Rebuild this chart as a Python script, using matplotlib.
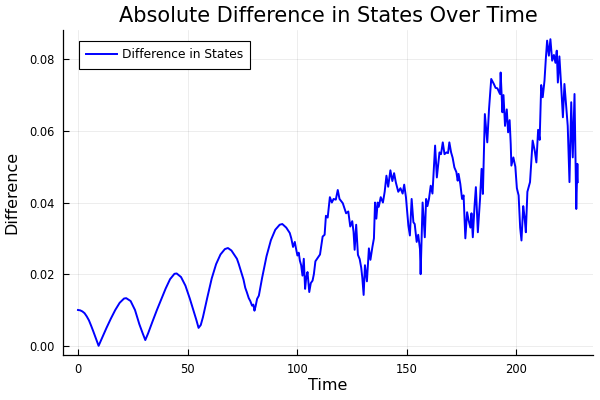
import numpy as np
import matplotlib.pyplot as plt
from matplotlib.ticker import FormatStrFormatter

# values
time = [
    0, 1, 2, 3, 4, 5, 6, 7, 8, 9.4, 11, 13, 15, 17, 19, 21, 22, 24, 26, 28, 29.5, 30.7,
    32, 34, 36, 38, 40, 42, 44, 45, 47, 49, 51, 53, 54, 55, 56, 57, 59, 61, 63, 65, 67,
    68.4, 70, 71.5, 72.5, 73.3, 74, 74.8, 75.5, 76.3, 77, 77.9, 78.6, 79.4, 80, 80.5, 81,
    81.7, 82.5, 84, 86, 88, 90, 92, 93.2, 95, 96.6, 97.3, 98.1, 98.9, 99.5, 100.1, 100.7,
    101.2, 101.8, 102.4, 103, 103.6, 104.1, 104.7, 105.5, 106.2, 107, 107.6, 108.3, 109.3,
    110.4, 111.6, 112.5, 113.1, 113.9, 114.9, 115.8, 116.6, 117.6, 118.5, 119.3, 120.8,
    122.3, 123.3, 124.2, 125.1, 125.7, 126.2, 126.9, 127.7, 128.5, 129.2, 129.7, 130.3,
    130.9, 131.8, 132.7, 133.4, 134.3, 135, 135.5, 136.1, 136.7, 137.2, 138.1, 139.1,
    139.9, 140.7, 141.5, 142.5, 143.4, 144.2, 145, 146.1, 147.1, 148.1, 148.8, 149.6,
    150.7, 151.4, 152.2, 153, 153.6, 154.5, 155.2, 156, 156.3, 157.2, 158.2, 158.8,
    159.4, 160.1, 160.9, 161.7, 162.9, 163.7, 164.9, 165.6, 166.4, 167.2, 168.1, 168.8,
    169.4, 170.2, 170.9, 171.7, 172.6, 173.2, 173.6, 174.4, 175.2, 175.9, 176.7, 177.5,
    178.2, 179, 179.5, 180.1, 180.9, 181.5, 182.4, 183.4, 184.1, 184.7, 185.6, 186.7,
    187.5, 188.5, 189.7, 190.5, 191.3, 192.5, 192.8, 193.6, 194.1, 194.8, 195.6, 196.2,
    196.9, 197.4, 197.7, 198.6, 199.5, 200.2, 201, 201.7, 202.3, 203.1, 203.7, 204.3,
    205, 206.2, 207.4, 208.4, 209.1, 209.9, 210.6, 211.3, 212, 212.8, 213.4, 214, 214.8,
    215.5, 216.3, 217.1, 217.8, 218.4, 218.9, 219.6, 220.4, 221.2, 221.9, 222.7, 223.4,
    224.2, 225, 225.7, 226.5, 227.3, 227.8, 228,
]
difference = [
    0.0100, 0.0099, 0.0096, 0.0091, 0.0082, 0.0071, 0.0056, 0.0040, 0.0023, 0.0000,
    0.0022, 0.0050, 0.0076, 0.0100, 0.0120, 0.0132, 0.0133, 0.0125, 0.0100, 0.0060,
    0.0035, 0.0016, 0.0035, 0.0068, 0.0100, 0.0130, 0.0160, 0.0186, 0.0201, 0.0202,
    0.0192, 0.0168, 0.0132, 0.0092, 0.0072, 0.0050, 0.0058, 0.0080, 0.0135, 0.0188,
    0.0228, 0.0255, 0.0270, 0.0273, 0.0266, 0.0252, 0.0243, 0.0229, 0.0215, 0.0200,
    0.0185, 0.0162, 0.0150, 0.0133, 0.0125, 0.0112, 0.0115, 0.0098, 0.0110, 0.0131,
    0.0140, 0.0190, 0.0250, 0.0295, 0.0324, 0.0338, 0.0340, 0.0330, 0.0315, 0.0300,
    0.0276, 0.0290, 0.0270, 0.0252, 0.0260, 0.0238, 0.0225, 0.0196, 0.0243, 0.0159,
    0.0190, 0.0206, 0.0150, 0.0175, 0.0182, 0.0200, 0.0236, 0.0245, 0.0255, 0.0305,
    0.0310, 0.0363, 0.0358, 0.0415, 0.0400, 0.0410, 0.0408, 0.0435, 0.0410, 0.0398,
    0.0370, 0.0375, 0.0333, 0.0348, 0.0318, 0.0268, 0.0338, 0.0254, 0.0242, 0.0218,
    0.0190, 0.0142, 0.0225, 0.0180, 0.0272, 0.0240, 0.0276, 0.0300, 0.0400, 0.0355,
    0.0400, 0.0388, 0.0415, 0.0400, 0.0430, 0.0475, 0.0444, 0.0490, 0.0460, 0.0482,
    0.0456, 0.0430, 0.0440, 0.0425, 0.0450, 0.0415, 0.0336, 0.0308, 0.0410, 0.0345,
    0.0340, 0.0290, 0.0310, 0.0270, 0.0200, 0.0400, 0.0303, 0.0410, 0.0390, 0.0410,
    0.0447, 0.0425, 0.0559, 0.0470, 0.0540, 0.0535, 0.0568, 0.0535, 0.0540, 0.0538,
    0.0568, 0.0540, 0.0525, 0.0498, 0.0485, 0.0461, 0.0480, 0.0452, 0.0410, 0.0420,
    0.0300, 0.0373, 0.0350, 0.0330, 0.0370, 0.0303, 0.0391, 0.0443, 0.0317, 0.0410,
    0.0494, 0.0424, 0.0647, 0.0568, 0.0661, 0.0745, 0.0731, 0.0720, 0.0719, 0.0703,
    0.0763, 0.0652, 0.0700, 0.0614, 0.0660, 0.0596, 0.0630, 0.0563, 0.0503, 0.0526,
    0.0500, 0.0440, 0.0420, 0.0330, 0.0294, 0.0390, 0.0360, 0.0317, 0.0430, 0.0457,
    0.0573, 0.0543, 0.0512, 0.0603, 0.0575, 0.0728, 0.0694, 0.0740, 0.0800, 0.0852,
    0.0810, 0.0856, 0.0796, 0.0812, 0.0790, 0.0824, 0.0735, 0.0808, 0.0726, 0.0638,
    0.0731, 0.0670, 0.0614, 0.0457, 0.0680, 0.0526, 0.0703, 0.0382, 0.0508, 0.0457,
]

xticks = [0, 50, 100, 150, 200]
yticks = [0.00, 0.02, 0.04, 0.06, 0.08]

fig = plt.figure(figsize=(6, 4), dpi=100)
ax = fig.add_axes([0.105, 0.1125, 0.883, 0.8125])

ax.plot(time, difference, color='blue', lw=1.4, label='Difference in States')

# Plots.jl style padding of 3% on each side
t = np.array(time)
d = np.array(difference)
tpad = 0.03 * (t.max() - t.min())
dpad = 0.03 * (d.max() - d.min())
ax.set_xlim(t.min() - tpad, t.max() + tpad)
ax.set_ylim(d.min() - dpad, d.max() + dpad)

ax.set_xticks(xticks)
ax.set_yticks(yticks)
ax.yaxis.set_major_formatter(FormatStrFormatter('%.2f'))
ax.tick_params(direction='in', length=4, width=0.8, labelsize=8.3, pad=6)
ax.grid(True, color='black', alpha=0.1, lw=0.5)

for s in ['top', 'right']:
    ax.spines[s].set_visible(False)
for s in ['left', 'bottom']:
    ax.spines[s].set_linewidth(0.9)

ax.set_title('Absolute Difference in States Over Time', fontsize=15)
ax.set_xlabel('Time', fontsize=11.5, labelpad=1.5)
ax.set_ylabel('Difference', fontsize=11.5, labelpad=7)

leg = ax.legend(loc='upper left', bbox_to_anchor=(0.03, 0.966), borderaxespad=0,
                fontsize=8.8, fancybox=False, framealpha=1, edgecolor='black',
                borderpad=0.6, handlelength=2.5, handletextpad=0.4)
leg.get_frame().set_linewidth(0.8)

fig.savefig('out.png', dpi=100)
